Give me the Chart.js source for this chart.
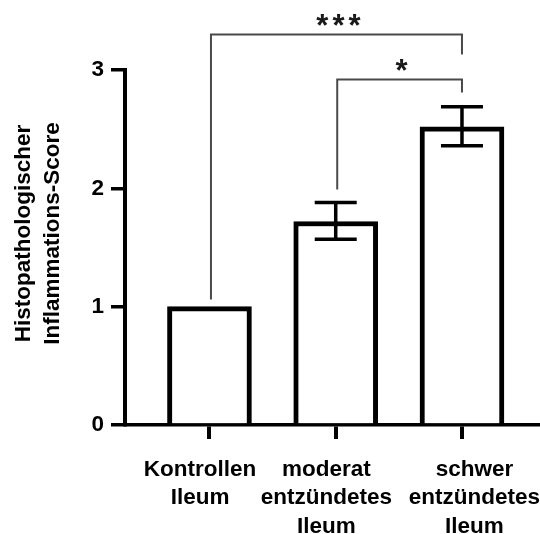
<!DOCTYPE html>
<html>
<head>
<meta charset="utf-8">
<script src="https://cdn.jsdelivr.net/npm/chart.js@4.4.1/dist/chart.umd.min.js"></script>
<style>
html,body{margin:0;padding:0;background:#fff;}
canvas{display:block;}
</style>
</head>
<body>
<canvas id="c" width="540" height="534"></canvas>
<script>
// ---- data ----
const categories = [
  ['Kontrollen', 'Ileum'],
  ['moderat', 'entzündetes', 'Ileum'],
  ['schwer', 'entzündetes', 'Ileum']
];
const meanScores = [1.00, 1.72, 2.52];
const errLower   = [1.00, 1.57, 2.36];
const errUpper   = [1.00, 1.88, 2.69];
const yTickValues = [0, 1, 2, 3];
const yTitleLines = ['Histopathologischer', 'Inflammations-Score'];
const compFrom   = [0, 1];
const compTo     = [2, 2];
const compLevel  = [3.30, 2.92];
const compLeftEnd  = [1.06, 1.99];
const compRightEnd = [3.13, 2.81];
const compLabels = ['***', '*'];

// ---- styling ----
const FONT = "'Liberation Sans', Arial, Helvetica, sans-serif";
const labelNudgeSpaces = [-3, -3, 4];

const errorBarPlugin = {
  id: 'errorBars',
  afterDatasetsDraw(chart) {
    const {ctx, scales: {x, y}} = chart;
    ctx.save();
    ctx.strokeStyle = '#000';
    ctx.lineWidth = 3.5;
    meanScores.forEach((m, i) => {
      if (errUpper[i] === errLower[i]) return;
      const px = x.getPixelForValue(i);
      const yt = y.getPixelForValue(errUpper[i]);
      const yb = y.getPixelForValue(errLower[i]);
      const half = 21;
      ctx.beginPath();
      ctx.moveTo(px, yt); ctx.lineTo(px, yb);
      ctx.moveTo(px - half, yt); ctx.lineTo(px + half, yt);
      ctx.moveTo(px - half, yb); ctx.lineTo(px + half, yb);
      ctx.stroke();
    });
    ctx.restore();
  }
};

const bracketPlugin = {
  id: 'brackets',
  afterDraw(chart) {
    const {ctx, scales: {x, y}} = chart;
    ctx.save();
    ctx.strokeStyle = '#4a4a4a';
    ctx.lineWidth = 2;
    compLabels.forEach((lab, k) => {
      const x1 = x.getPixelForValue(compFrom[k]) + 1.5;
      const x2 = x.getPixelForValue(compTo[k]);
      const yl = y.getPixelForValue(compLevel[k]);
      const y1 = y.getPixelForValue(compLeftEnd[k]);
      const y2 = y.getPixelForValue(compRightEnd[k]);
      ctx.beginPath();
      ctx.moveTo(x1, y1); ctx.lineTo(x1, yl); ctx.lineTo(x2, yl); ctx.lineTo(x2, y2);
      ctx.stroke();
      const fs = 31;
      ctx.font = 'bold ' + fs + 'px ' + FONT;
      ctx.letterSpacing = '4px';
      ctx.fillStyle = '#1a1a1a';
      ctx.textAlign = 'center';
      ctx.textBaseline = 'alphabetic';
      ctx.fillText(lab, (x1 + x2) / 2 + 4, yl - 16 + 0.57 * fs);
    });
    ctx.restore();
  }
};

const yTitlePlugin = {
  id: 'yTitle',
  afterDraw(chart) {
    const {ctx} = chart;
    ctx.save();
    ctx.fillStyle = '#000';
    ctx.font = 'bold 22.5px ' + FONT;
    ctx.textAlign = 'center';
    ctx.textBaseline = 'alphabetic';
    const cy = 233.5;
    const baseX = [30, 58.5];
    yTitleLines.forEach((t, i) => {
      ctx.save();
      ctx.translate(baseX[i], cy);
      ctx.rotate(-Math.PI / 2);
      ctx.fillText(t, 0, 0);
      ctx.restore();
    });
    ctx.restore();
  }
};

new Chart(document.getElementById('c'), {
  type: 'bar',
  data: {
    datasets: [{
      data: meanScores.map((v, i) => ({x: i, y: v})),
      backgroundColor: '#fff',
      borderColor: '#000',
      borderWidth: 5,
      borderSkipped: 'start',
      barThickness: 84
    }]
  },
  options: {
    responsive: false,
    animation: false,
    devicePixelRatio: 1,
    layout: {padding: {top: 70, left: 0, right: 0, bottom: 0}},
    plugins: {legend: {display: false}, tooltip: {enabled: false}},
    scales: {
      x: {
        type: 'linear',
        min: -0.669,
        max: 2.618,
        z: 1,
        offset: false,
        afterBuildTicks(scale) { scale.ticks = categories.map((c, i) => ({value: i})); },
        afterFit(scale) { scale.height = 109; scale.paddingLeft = 0; scale.paddingRight = 0; },
        grid: {display: true, offset: false, drawOnChartArea: false, drawTicks: true, tickLength: 14, color: '#000', lineWidth: 4},
        border: {display: true, color: '#000', width: 3.5},
        ticks: {
          autoSkip: false,
          maxRotation: 0,
          padding: 17,
          color: '#000',
          font: {family: FONT, size: 22.5, weight: 'bold', lineHeight: 1.25},
          callback(v) {
            const i = Math.round(v);
            const n = labelNudgeSpaces[i];
            const pad = ' '.repeat(Math.abs(n));
            return categories[i].map(l => n < 0 ? l + pad : pad + l);
          }
        }
      },
      y: {
        min: 0,
        max: 3,
        z: 1,
        afterBuildTicks(scale) { scale.ticks = yTickValues.map(v => ({value: v})); },
        afterFit(scale) { scale.width = 125; },
        grid: {display: true, offset: false, drawOnChartArea: false, drawTicks: true, tickLength: 14, color: '#000', lineWidth: 3.5},
        border: {display: true, color: '#000', width: 4},
        ticks: {
          padding: 7,
          color: '#000',
          font: {family: FONT, size: 22.5, weight: 'bold'}
        }
      }
    }
  },
  plugins: [errorBarPlugin, bracketPlugin, yTitlePlugin]
});
</script>
</body>
</html>
